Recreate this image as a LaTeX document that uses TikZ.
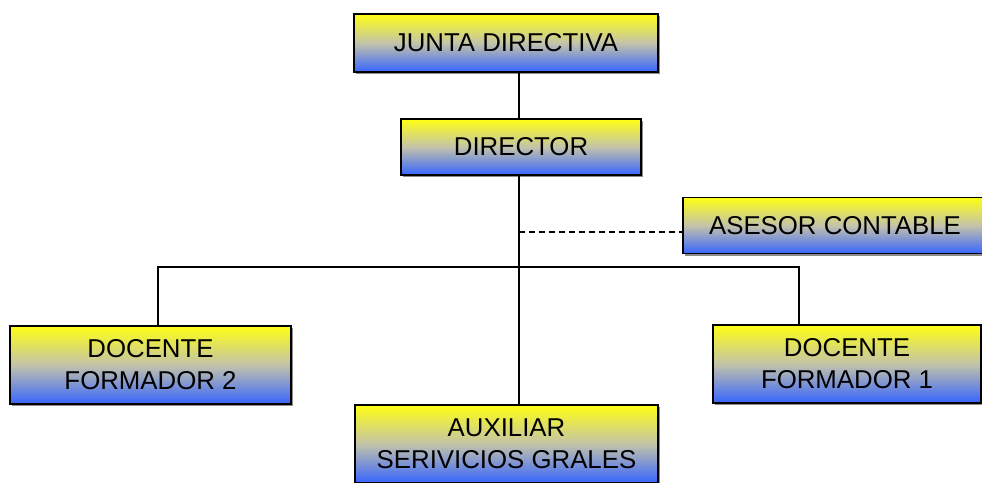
\documentclass[tikz,border=0pt]{standalone}
\usepackage{fontspec}
\setmainfont{Liberation Sans}
\usetikzlibrary{shadows}
\definecolor{gtop}{RGB}{255,255,20}
\definecolor{gmid}{RGB}{195,195,170}
\definecolor{gbot}{RGB}{55,100,255}
\tikzset{
  orgbox/.style={rectangle, draw=black, line width=1.5pt,
    top color=gtop, bottom color=gbot, middle color=gmid,
    align=center, inner sep=0pt,
    font=\fontsize{25.8}{32}\selectfont,
    drop shadow={shadow xshift=2pt, shadow yshift=-2pt, opacity=0.45, fill=black}},
  conn/.style={line width=1.5pt, draw=black},
  dconn/.style={line width=1.5pt, draw=black, dash pattern=on 6pt off 4pt}
}
\begin{document}
\begin{tikzpicture}[x=1pt,y=-1pt]
\useasboundingbox (0,0) rectangle (982,482);
\coordinate (trunk) at (519,267);
\coordinate (bl) at (158,267);
\coordinate (br) at (799,267);
\coordinate (dashy) at (519,232);
\node[orgbox, minimum width=304pt, minimum height=58pt] (junta) at (506,43) {JUNTA DIRECTIVA};
\node[orgbox, minimum width=240pt, minimum height=56pt] (director) at (521,147) {DIRECTOR};
\node[orgbox, minimum width=304pt, minimum height=56pt] (asesor) at (835,225.5) {ASESOR CONTABLE};
\node[orgbox, minimum width=281pt, minimum height=78pt] (doc2) at (150.5,365) {DOCENTE\\FORMADOR 2};
\node[orgbox, minimum width=268pt, minimum height=78pt] (doc1) at (847,364) {DOCENTE\\FORMADOR 1};
\node[orgbox, minimum width=303pt, minimum height=78pt] (aux) at (506.5,444) {AUXILIAR\\SERIVICIOS GRALES};
\draw[conn] (director.north -| trunk) -- (junta.south -| trunk);
\draw[conn] (director.south -| trunk) -- (aux.north -| trunk);
\draw[conn] (doc2.north -| bl) -- (bl) -- (br) -- (doc1.north -| br);
\draw[dconn] (dashy) -- (dashy -| asesor.west);
\end{tikzpicture}
\end{document}
